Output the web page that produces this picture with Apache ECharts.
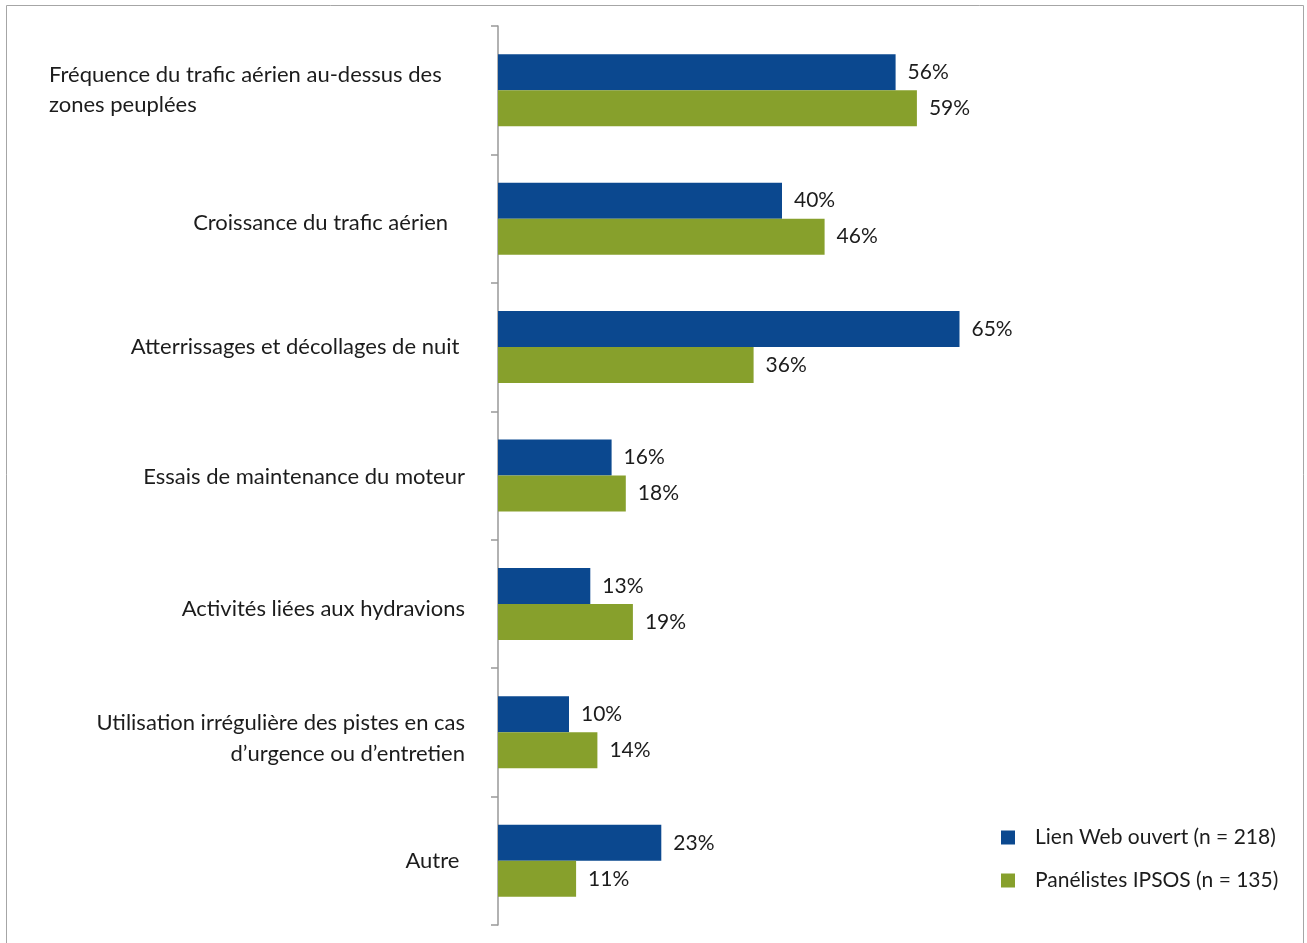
<!DOCTYPE html>
<html>
<head>
<meta charset="utf-8">
<script src="https://cdn.jsdelivr.net/npm/echarts@6/dist/echarts.min.js"></script>
<style>
  html, body { margin: 0; padding: 0; background: #fff; }
  #chart { width: 1307px; height: 943px; }
</style>
</head>
<body>
<div id="chart"></div>
<script>
// Categories, top to bottom
const categories = [
  'Fréquence du trafic aérien au-dessus des zones peuplées',
  'Croissance du trafic aérien   ',
  'Atterrissages et décollages de nuit ',
  'Essais de maintenance du moteur',
  'Activités liées aux hydravions',
  'Utilisation irrégulière des pistes en cas\nd’urgence ou d’entretien',
  'Autre '
];
const seriesNames = ['Lien Web ouvert (n = 218)', 'Panélistes IPSOS (n = 135)'];
const webValues = [56, 40, 65, 16, 13, 10, 23];
const ipsosValues = [59, 46, 36, 18, 19, 14, 11];

// Top padding nudging some category labels slightly below the band centre
const labelTopPad = [0, 8, 0, 2, 9, 12, 0];

const FONT = 'Lato, "Noto Sans", sans-serif';
const TEXT = '#1c1c1c';
const chart = echarts.init(document.getElementById('chart'), null, { renderer: 'canvas' });

const categoryData = categories.map(function (name, i) {
  return { value: name, textStyle: { padding: [labelTopPad[i], 0, 0, 0] } };
});

chart.setOption({
  animation: false,
  textStyle: { fontFamily: FONT },
  graphic: [{
    type: 'rect',
    shape: { x: 6.5, y: 5.5, width: 1297, height: 960 },
    style: { fill: 'none', stroke: '#a6a6a6', lineWidth: 1 },
    silent: true
  }],
  legend: {
    orient: 'vertical',
    left: 996,
    top: 822,
    itemWidth: 14,
    itemHeight: 14,
    itemGap: 22,
    icon: 'rect',
    data: seriesNames,
    textStyle: { fontSize: 21, color: TEXT, fontFamily: FONT, padding: [0, 0, 0, 15] }
  },
  grid: { left: 498, top: 26, bottom: 18, right: 312, containLabel: false },
  xAxis: {
    type: 'value',
    min: 0,
    max: 70,
    show: false
  },
  yAxis: {
    type: 'category',
    inverse: true,
    data: categoryData,
    axisLine: { show: true, lineStyle: { color: '#999', width: 1.5 } },
    axisTick: { show: true, length: 7, lineStyle: { color: '#999', width: 1.5 } },
    axisLabel: {
      margin: 33,
      fontSize: 22,
      color: TEXT,
      fontFamily: FONT,
      lineHeight: 31,
      formatter: function (v, i) {
        if (i === 0) {
          return '{l|Fréquence du trafic aérien au-dessus des}\n{l|zones peuplées}';
        }
        return v;
      },
      rich: {
        l: { width: 416, align: 'left', fontSize: 22, color: TEXT, fontFamily: FONT, lineHeight: 30 }
      }
    },
    splitLine: { show: false }
  },
  series: [
    {
      name: seriesNames[0],
      type: 'bar',
      data: webValues,
      barWidth: 36,
      barGap: '0%',
      itemStyle: { color: '#0b488f' },
      label: {
        show: true, position: 'right', distance: 12,
        formatter: '{c}%', fontSize: 21, color: TEXT, fontFamily: FONT
      }
    },
    {
      name: seriesNames[1],
      type: 'bar',
      data: ipsosValues,
      barWidth: 36,
      barGap: '0%',
      itemStyle: { color: '#87a02c' },
      label: {
        show: true, position: 'right', distance: 12,
        formatter: '{c}%', fontSize: 21, color: TEXT, fontFamily: FONT
      }
    }
  ]
});
</script>
</body>
</html>
